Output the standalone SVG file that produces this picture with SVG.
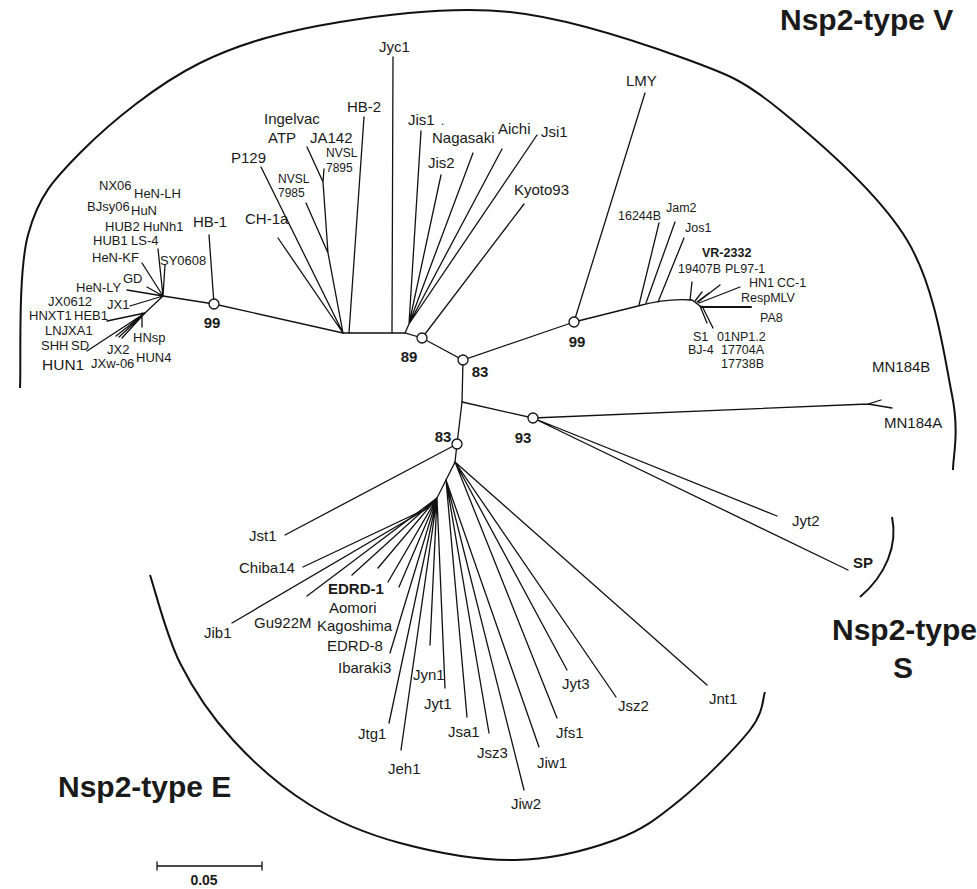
<svg xmlns="http://www.w3.org/2000/svg" width="977" height="889" viewBox="0 0 977 889">
<style>
.br{stroke:#111;stroke-width:1.3;fill:none;stroke-linecap:round}
.arc{stroke:#111;stroke-width:2;fill:none}
text{font-family:"Liberation Sans",Arial,Helvetica,sans-serif;fill:#1a1a1a}
.s{font-size:13px}
.xs{font-size:12px}
.m{font-size:15px}
.b{font-weight:bold}
.ttl{font-size:30px;font-weight:bold}
.nd circle{fill:#fff;stroke:#111;stroke-width:1.3}
.nd text{font-size:15px;font-weight:bold;text-anchor:middle}
</style>
<rect width="977" height="889" fill="#fff"/>
<g id="clade-arcs">
<path class="arc" d="M 20 388 C 21.3 362.5, 17.5 274.7, 28 235 C 38.5 195.3, 54.3 178.7, 83 150 C 111.7 121.3, 157.2 84.3, 200 63 C 242.8 41.7, 288.3 30.5, 340 22 C 391.7 13.5, 452.8 6, 510 12 C 567.2 18, 638 41.7, 683 58 C 728 74.3, 742.7 79.7, 780 110 C 817.3 140.3, 878.3 192.5, 907 240 C 935.7 287.5, 944.3 356.7, 952 395 C 959.7 433.3, 952.8 457.5, 953 470"/>
<path class="arc" d="M 150 575 C 155 589.7, 166.2 635.5, 180 663 C 193.8 690.5, 211.3 716.3, 233 740 C 254.7 763.7, 282.2 787.8, 310 805 C 337.8 822.2, 365.8 833.8, 400 843 C 434.2 852.2, 479.2 860.5, 515 860 C 550.8 859.5, 587.5 850, 615 840 C 642.5 830, 657.5 818.3, 680 800 C 702.5 781.7, 735.8 748, 750 730 C 764.2 712, 762.5 698.3, 765 692"/>
<path class="arc" d="M 892 517 C 898 545, 886 575, 860 597"/>
</g>
<g id="connectors">
<path class="br" d="M214 304 L343 333 L405 333 L422 338 L463 360 L574 322"/>
<path class="br" d="M463 360 L462 402 L457 444"/>
<path class="br" d="M462 402 L533 418"/>
<path class="br" d="M214 304 L163 296 M214 304 L209 235"/>
<path class="br" d="M163 296 L158 249 M163 296 L165 265 M163 296 L142 263 M163 296 L147 287 M163 296 L127 290 M163 296 L130 306 M163 296 L145 313"/>
<path class="br" d="M145 313 L107 321 M145 313 L87 351 M145 313 L113 334 M145 313 L116 336 M145 313 L119 337 M145 313 L122 338 M142 313 L142 327"/>
<path class="br" d="M343 333 L278 238 M343 333 L261 167 M343 333 L328 253 L306 203 M328 253 L323 182 L307 147 M323 182 L324 169"/>
<path class="br" d="M349 333 L364 117 M392 333 L393 57"/>
<path class="br" d="M405 333 L409 324 M409 324 L421 131 M409 324 L441 175 M409 324 L473 153 M409 324 L502 149 M409 324 L537 135"/>
<path class="br" d="M422 338 L524 204"/>
<path class="br" d="M574 322 L645 93"/>
<path class="br" d="M574 322 L638 306 C660 300 680 299 692 300 L700 306"/>
<path class="br" d="M639 305 L659 223 M646 303 L675 222 M658 302 L684 238"/>
<path class="br" d="M690 300 L692 282 M695 301 L702 292 M697 302 L709 293 M698 302 L720 285 M699 303 L740 287"/>
<path class="br" d="M701 307 L751 307" style="stroke-width:2"/>
<path class="br" d="M700 306 L707 323 M702 306 L713 328"/>
<path class="br" d="M533 418 L868 404 L881 400 M868 404 L892 408"/>
<path class="br" d="M533 418 L777 516 M533 418 L848 570"/>
<path class="br" d="M457 444 L285 535"/>
<path class="br" d="M457 444 L455 462 L437 498 L428 508"/>
<path class="br" d="M455 462 L707 685 M455 462 L616 697 M455 462 L567 670 M455 462 L557 718"/>
<path class="br" d="M446 480 L539 747 M446 480 L524 790 M446 480 L489 733 M446 480 L467 717"/>
<path class="br" d="M437 498 L445 688 M437 498 L430 645 M437 498 L401 750 M437 498 L389 723 M437 498 L390 653 M437 498 L399 587 M437 498 L388 582 M437 498 L378 568 M437 498 L352 575 M437 498 L307 596"/>
<path class="br" d="M428 508 L303 567 M428 508 L232 623"/>
<path class="br" d="M157 866 L262 866 M157 862 L157 870 M262 862 L262 870"/>
</g>
<g id="support-nodes" class="nd">
<g id="node-99a"><circle cx="214" cy="304" r="5"/><text x="212" y="328">99</text></g>
<g id="node-89"><circle cx="422" cy="338" r="5"/><text x="409" y="362">89</text></g>
<g id="node-83a"><circle cx="463" cy="360" r="5"/><text x="480" y="377">83</text></g>
<g id="node-99b"><circle cx="574" cy="322" r="5"/><text x="577" y="347">99</text></g>
<g id="node-83b"><circle cx="457" cy="444" r="5"/><text x="443" y="442">83</text></g>
<g id="node-93"><circle cx="533" cy="418" r="5"/><text x="523" y="443">93</text></g>
</g>
<g id="leaves-left" class="s">
<text x="99" y="190">NX06</text>
<text x="134" y="198">HeN-LH</text>
<text x="87" y="211">BJsy06</text>
<text x="131" y="215">HuN</text>
<text x="105" y="231">HUB2</text>
<text x="143" y="231">HuNh1</text>
<text x="93" y="245">HUB1</text>
<text x="131" y="245">LS-4</text>
<text x="92" y="262">HeN-KF</text>
<text x="160" y="265">SY0608</text>
<text x="123" y="283">GD</text>
<text x="76" y="292">HeN-LY</text>
<text x="48" y="306">JX0612</text>
<text x="107" y="309">JX1</text>
<text x="29" y="320">HNXT1</text>
<text x="74" y="320">HEB1</text>
<text x="45" y="335">LNJXA1</text>
<text x="41" y="350">SHH</text>
<text x="71" y="350">SD</text>
<text x="42" y="370" style="font-size:15.5px">HUN1</text>
<text x="107" y="354">JX2</text>
<text x="133" y="342">HNsp</text>
<text x="91" y="368">JXw-06</text>
<text x="136" y="362">HUN4</text>
</g>
<g id="leaves-top" class="m">
<text x="193" y="227">HB-1</text>
<text x="245" y="224">CH-1a</text>
<text x="231" y="163">P129</text>
<text x="264" y="124">Ingelvac</text>
<text x="268" y="143">ATP</text>
<text x="310" y="143">JA142</text>
<text x="326" y="157" class="xs">NVSL</text>
<text x="326" y="172" class="xs">7895</text>
<text x="278" y="183" class="xs">NVSL</text>
<text x="278" y="197" class="xs">7985</text>
<text x="347" y="112">HB-2</text>
<text x="379" y="52">Jyc1</text>
<text x="408" y="125">Jis1</text>
<text x="441" y="125" class="xs">.</text>
<text x="432" y="143">Nagasaki</text>
<text x="498" y="134">Aichi</text>
<text x="541" y="137">Jsi1</text>
<text x="428" y="168">Jis2</text>
<text x="514" y="195">Kyoto93</text>
</g>
<g id="leaves-right" style="font-size:12.5px">
<text x="626" y="86" class="m">LMY</text>
<text x="618" y="220">16244B</text>
<text x="666" y="212">Jam2</text>
<text x="685" y="232">Jos1</text>
<text x="702" y="257" class="b">VR-2332</text>
<text x="678" y="273">19407B</text>
<text x="725" y="273">PL97-1</text>
<text x="749" y="287">HN1</text>
<text x="777" y="287">CC-1</text>
<text x="741" y="302">RespMLV</text>
<text x="760" y="322">PA8</text>
<text x="693" y="341">S1</text>
<text x="717" y="341">01NP1.2</text>
<text x="688" y="354">BJ-4</text>
<text x="721" y="354">17704A</text>
<text x="721" y="368">17738B</text>
<text x="872" y="372" class="m">MN184B</text>
<text x="884" y="428" class="m">MN184A</text>
<text x="792" y="526" class="m">Jyt2</text>
<text x="853" y="568" class="m b">SP</text>
</g>
<g id="leaves-bottom" class="m">
<text x="249" y="541">Jst1</text>
<text x="239" y="573">Chiba14</text>
<text x="204" y="638">Jib1</text>
<text x="254" y="628">Gu922M</text>
<text x="328" y="594" class="b">EDRD-1</text>
<text x="329" y="613">Aomori</text>
<text x="317" y="631">Kagoshima</text>
<text x="327" y="651">EDRD-8</text>
<text x="338" y="673">Ibaraki3</text>
<text x="413" y="680">Jyn1</text>
<text x="424" y="709">Jyt1</text>
<text x="358" y="739">Jtg1</text>
<text x="388" y="774">Jeh1</text>
<text x="448" y="737">Jsa1</text>
<text x="477" y="758">Jsz3</text>
<text x="511" y="809">Jiw2</text>
<text x="537" y="768">Jiw1</text>
<text x="556" y="738">Jfs1</text>
<text x="562" y="689">Jyt3</text>
<text x="618" y="711">Jsz2</text>
<text x="709" y="704">Jnt1</text>
</g>
<g id="titles">
<text class="ttl" x="780" y="30">Nsp2-type V</text>
<text class="ttl" x="832" y="640">Nsp2-type</text>
<text class="ttl" x="903" y="678" text-anchor="middle">S</text>
<text class="ttl" x="58" y="797">Nsp2-type E</text>
<text x="204" y="885" text-anchor="middle" style="font-size:14px;font-weight:bold">0.05</text>
</g>
</svg>
